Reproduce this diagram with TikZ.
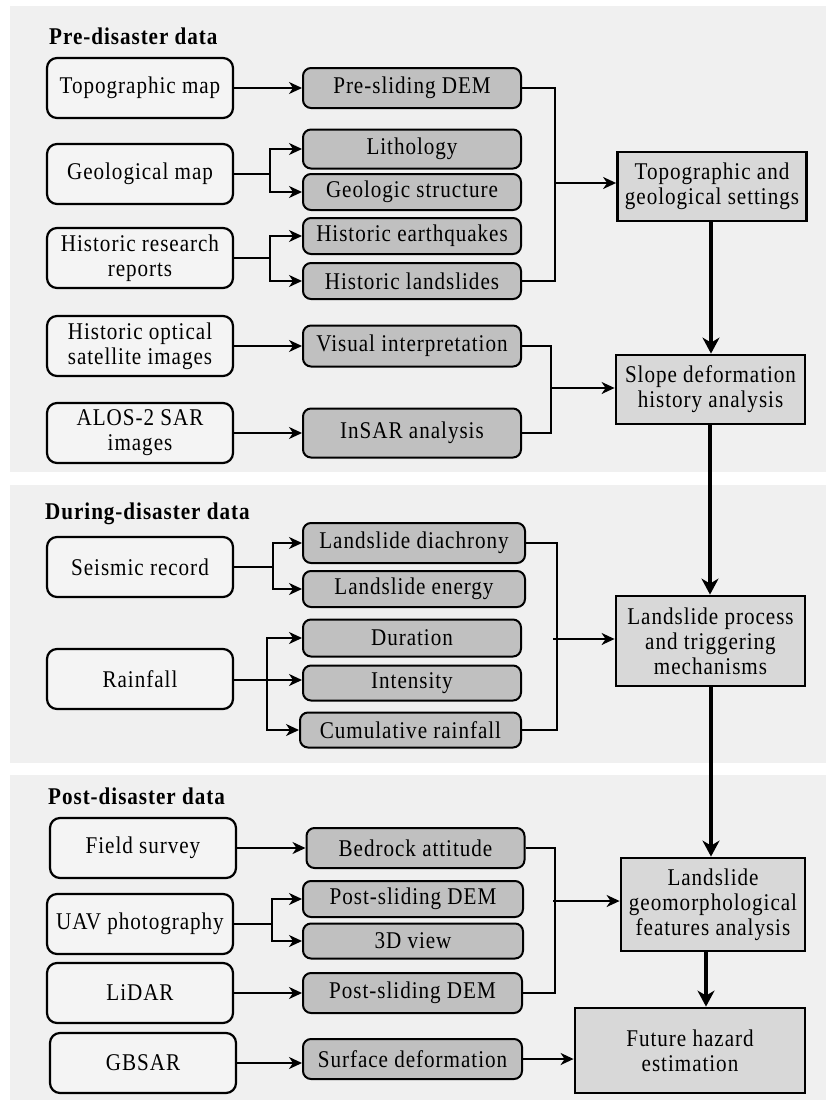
\documentclass[tikz,border=0pt]{standalone}
\usepackage{fontspec}
\setmainfont{Liberation Serif}[LetterSpace=4,FakeStretch=0.88]
\usetikzlibrary{arrows.meta,calc}
\definecolor{panelbg}{RGB}{240,240,240}
\definecolor{lfill}{RGB}{244,244,244}
\definecolor{mfill}{RGB}{192,192,192}
\definecolor{rfill}{RGB}{216,216,216}
\begin{document}
\begin{tikzpicture}[x=1pt,y=-1pt,
  every node/.style={font=\fontsize{24}{25}\selectfont},
  lbox/.style={draw=black,line width=2.2pt,fill=lfill,rounded corners=10pt,minimum width=186pt,minimum height=60pt,align=center,inner sep=1pt},
  mbox/.style={draw=black,line width=2pt,fill=mfill,rounded corners=8pt,minimum width=218pt,align=center,inner sep=1pt},
  rbox/.style={draw=black,line width=2.8pt,fill=rfill,minimum width=189pt,align=center,inner sep=1pt},
  title/.style={font=\fontsize{24}{25}\selectfont\bfseries,anchor=base west,inner sep=0pt},
  aline/.style={line width=2pt},
  arr/.style={line width=2pt,-{Stealth[length=13pt,width=12pt,inset=4pt]}},
  bline/.style={line width=1.6pt},
  barr/.style={line width=1.8pt,-{Stealth[length=13pt,width=12pt,inset=4pt]}},
  varr/.style={line width=3.4pt,-{Stealth[length=16pt,width=17pt,inset=5pt]}}
]
\useasboundingbox (0,0) rectangle (826,1100);
\fill[panelbg] (10,6) rectangle (826,472);
\fill[panelbg] (10,485) rectangle (826,763);
\fill[panelbg] (10,775) rectangle (826,1100);

% titles
\node[title] (t1) at (49,44) {Pre-disaster data};
\node[title] (t2) at (45,519) {During-disaster data};
\node[title] (t3) at (48,804) {Post-disaster data};

% left boxes
\node[lbox] (topo) at (140,88) {Topographic map};
\node[lbox] (geo) at (140,174) {Geological map};
\node[lbox] (hrr) at (140,258) {Historic research\\reports};
\node[lbox] (hos) at (140,346) {Historic optical\\satellite images};
\node[lbox] (alos) at (140,433) {ALOS-2 SAR\\images};
\node[lbox] (seis) at (140,567) {Seismic record};
\node[lbox] (rain) at (140,679) {Rainfall};
\node[lbox] (field) at (143,848) {Field\ survey};
\node[lbox] (uav) at (140,924) {UAV\ photography};
\node[lbox] (lidar) at (140,993) {LiDAR};
\node[lbox] (gbsar) at (143,1063) {GBSAR};

% middle boxes
\node[mbox,minimum height=40pt] (dem1) at (412,88) {Pre-sliding DEM};
\node[mbox,minimum height=39pt] (lith) at (412,149) {Lithology};
\node[mbox,minimum height=36pt] (gstr) at (412,192) {Geologic structure};
\node[mbox,minimum height=36pt] (heq) at (412,236) {Historic earthquakes};
\node[mbox,minimum height=36pt] (hls) at (412,281) {Historic landslides};
\node[mbox,minimum height=41pt] (vis) at (412,346) {Visual interpretation};
\node[mbox,minimum height=49pt] (insar) at (412,433) {InSAR analysis};
\node[mbox,minimum height=40pt,minimum width=222pt] (diach) at (414,543) {Landslide diachrony};
\node[mbox,minimum height=36pt,minimum width=222pt] (energy) at (414,589) {Landslide energy};
\node[mbox,minimum height=37pt] (dur) at (412,638) {Duration};
\node[mbox,minimum height=35pt] (inten) at (412,683) {Intensity};
\node[mbox,minimum height=35pt,minimum width=221pt] (cum) at (410.5,730) {Cumulative rainfall};
\node[mbox,minimum height=40pt] (bed) at (415.5,848) {Bedrock attitude};
\node[mbox,minimum height=36pt,minimum width=220pt] (dem2) at (413,899) {Post-sliding DEM};
\node[mbox,minimum height=35pt,minimum width=220pt] (v3d) at (413,941) {3D view};
\node[mbox,minimum height=40pt,minimum width=219pt] (dem3) at (412.5,993) {Post-sliding DEM};
\node[mbox,minimum height=40pt,minimum width=219pt] (surf) at (412.5,1059) {Surface\ deformation};

% right boxes
\node[rbox,minimum height=69pt] (tgs) at (712,186.5) {Topographic and\\geological settings};
\node[rbox,minimum height=69pt] (sdh) at (710.5,389.5) {Slope deformation\\history analysis};
\node[rbox,minimum height=90pt] (lpt) at (710.5,641) {Landslide\ process\\and\ triggering\\mechanisms};
\node[rbox,minimum height=93pt,minimum width=184pt] (lgf) at (713,904.5) {Landslide\\geomorphological\\features analysis};
\node[rbox,minimum height=85pt,minimum width=230pt] (fhe) at (690,1050.5) {Future hazard\\estimation};

% left-to-middle connectors
\draw[arr] (topo.east) -- (dem1.west);
\coordinate (b1) at (270,174);
\draw[aline] (geo.east) -- (b1);
\draw[arr] (b1) |- (lith.west);
\draw[arr] (b1) |- (gstr.west);
\coordinate (b2) at (270,258);
\draw[aline] (hrr.east) -- (b2);
\draw[arr] (b2) |- (heq.west);
\draw[arr] (b2) |- (hls.west);
\draw[arr] (hos.east) -- (vis.west);
\draw[arr] (alos.east) -- (insar.west);
\coordinate (b3) at (273,567);
\draw[aline] (seis.east) -- (b3);
\draw[arr] (b3) |- (diach.west);
\draw[arr] (b3) |- (energy.west);
\coordinate (b4) at (267,680);
\draw[aline] (rain.east) -- (rain.east |- b4) -- (b4);
\draw[arr] (b4) |- (dur.west);
\draw[arr] (b4) -- (b4 -| inten.west);
\draw[arr] (b4) |- (cum.west);
\draw[arr] (field.east) -- (bed.west);
\coordinate (b5) at (272,924);
\draw[aline] (uav.east) -- (b5);
\draw[arr] (b5) |- (dem2.west);
\draw[arr] (b5) |- (v3d.west);
\draw[arr] (lidar.east) -- (dem3.west);
\draw[arr] (gbsar.east) -- (gbsar.east -| surf.west);

% brackets to right boxes
\coordinate (j1) at (555,183);
\draw[bline] (dem1.east) -- (dem1.east -| j1) -- (hls.east -| j1) -- (hls.east);
\draw[barr] (j1) -- (j1 -| tgs.west);
\coordinate (j2) at (551,388);
\draw[bline] (vis.east) -- (vis.east -| j2) -- (insar.east -| j2) -- (insar.east);
\draw[barr] (j2) -- (j2 -| sdh.west);
\coordinate (j3) at (557,639);
\draw[bline] (diach.east) -- (diach.east -| j3) -- (cum.east -| j3) -- (cum.east);
\draw[barr] ($(j3)+(-4,0)$) -- (j3 -| lpt.west);
\coordinate (j4) at (555,901);
\draw[bline] (bed.east) -- (bed.east -| j4) -- (dem3.east -| j4) -- (dem3.east);
\draw[barr] ($(j4)+(-2,0)$) -- (j4 -| lgf.west);
\draw[arr] (surf.east) -- (surf.east -| fhe.west);

% main vertical flow
\draw[varr] (tgs.south -| 711,0) -- (sdh.north -| 711,0);
\draw[varr] (sdh.south -| 710,0) -- (lpt.north -| 710,0);
\draw[varr] (lpt.south -| 711,0) -- (lgf.north -| 711,0);
\draw[varr] (lgf.south -| 706,0) -- (fhe.north -| 706,0);
\end{tikzpicture}
\end{document}
